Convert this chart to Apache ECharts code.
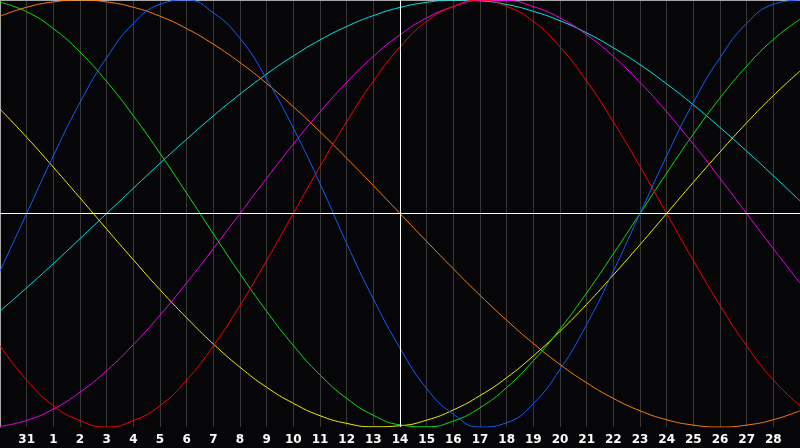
<!DOCTYPE html>
<html><head><meta charset="utf-8">
<script src="https://cdn.jsdelivr.net/npm/echarts@6/dist/echarts.min.js"></script>
<style>html,body{margin:0;padding:0;background:#060508;}#c{width:800px;height:448px;}</style>
</head><body><div id="c"></div>
<script>
// day labels (first and last are off-screen edges, not shown)
const days = ['30','31','1','2','3','4','5','6','7','8','9','10','11','12','13','14','15','16','17','18','19','20','21','22','23','24','25','26','27','28','1'];
const todayIndex = 15; // day 14
const physical = [-0.27,0,0.27,0.52,0.73,0.89,0.98,1.00,0.94,0.82,0.63,0.40,0.14,-0.14,-0.40,-0.63,-0.82,-0.94,-1.00,-0.98,-0.89,-0.73,-0.52,-0.27,0,0.27,0.52,0.73,0.89,0.98,1.00];
const emotional = [-0.62,-0.78,-0.90,-0.97,-1.00,-0.97,-0.90,-0.78,-0.62,-0.43,-0.22,0,0.22,0.43,0.62,0.78,0.90,0.97,1.00,0.97,0.90,0.78,0.62,0.43,0.22,0,-0.22,-0.43,-0.62,-0.78,-0.90];
const intellectual = [0.99,0.945,0.866,0.756,0.618,0.458,0.282,0.095,-0.095,-0.282,-0.458,-0.618,-0.756,-0.866,-0.945,-0.990,-0.999,-0.972,-0.910,-0.815,-0.690,-0.541,-0.372,-0.189,0,0.189,0.372,0.541,0.690,0.815,0.910];
const intuitive = [-0.997,-0.969,-0.916,-0.837,-0.736,-0.614,-0.476,-0.325,-0.165,0,0.165,0.325,0.476,0.614,0.736,0.837,0.916,0.969,0.997,0.997,0.969,0.916,0.837,0.736,0.614,0.476,0.325,0.165,0,-0.165,-0.325];
const aesthetic = [0.489,0.357,0.217,0.073,-0.073,-0.217,-0.357,-0.489,-0.611,-0.720,-0.814,-0.889,-0.947,-0.983,-0.999,-0.994,-0.968,-0.920,-0.853,-0.769,-0.667,-0.552,-0.425,-0.288,-0.146,0,0.146,0.288,0.425,0.552,0.667];
const awareness = [0.924,0.966,0.991,1.00,0.991,0.966,0.924,0.866,0.793,0.707,0.609,0.50,0.383,0.259,0.131,0,-0.131,-0.259,-0.383,-0.50,-0.609,-0.707,-0.793,-0.866,-0.924,-0.966,-0.991,-1.00,-0.991,-0.966,-0.924];
const spiritual = [-0.457,-0.348,-0.235,-0.118,0,0.118,0.235,0.348,0.457,0.559,0.653,0.738,0.813,0.876,0.927,0.965,0.989,1.00,0.996,0.979,0.947,0.903,0.846,0.776,0.697,0.607,0.509,0.403,0.292,0.177,0.059];

const seriesDefs = [
  {name:'spiritual', data:spiritual, color:'#00e8e8'},
  {name:'awareness', data:awareness, color:'#ff8000'},
  {name:'aesthetic', data:aesthetic, color:'#f0f000'},
  {name:'intuitive', data:intuitive, color:'#f000f0'},
  {name:'intellectual', data:intellectual, color:'#10e010'},
  {name:'emotional', data:emotional, color:'#ff0000'},
  {name:'physical', data:physical, color:'#1060ff'}
];

const chart = echarts.init(document.getElementById('c'), null, {renderer:'canvas'});
const series = seriesDefs.map(s => ({
  name: s.name, type:'line', data: s.data, smooth: true, showSymbol:false, symbol:'none',
  lineStyle:{color:s.color, width:1}, itemStyle:{color:s.color}, z:3, silent:true
}));
series.push({
  type:'line', data:[], silent:true, z:2,
  markLine:{symbol:'none', silent:true, label:{show:false},
    lineStyle:{color:'#ffffff', width:1, type:'solid'},
    animation:false,
    data:[{xAxis: todayIndex}, {yAxis: 0}]}
});
chart.setOption({
  animation:false,
  backgroundColor:'#060508',
  grid:{left:0, right:0, top:0, bottom:21, containLabel:false},
  xAxis:[{
    type:'category', data: days, boundaryGap:false,
    axisLine:{show:true, lineStyle:{color:'#a8a8a8', width:1}},
    axisTick:{show:false},
    axisLabel:{color:'#ffffff', fontFamily:'DejaVu Sans', fontWeight:'bold', fontSize:12, margin:7,
      interval: function(i){ return i>0 && i<days.length-1; }},
    splitLine:{show:true, interval:0, lineStyle:{color:'#383838', width:1}}
  },{
    type:'category', data: days, boundaryGap:false, position:'top',
    axisLine:{show:true, lineStyle:{color:'#a8a8a8', width:1}},
    axisTick:{show:false}, axisLabel:{show:false}, splitLine:{show:false}
  }],
  yAxis:{type:'value', min:-1, max:1,
    axisLine:{show:true, lineStyle:{color:'#a8a8a8', width:1}},
    axisTick:{show:false}, axisLabel:{show:false}, splitLine:{show:false}},
  series: series
});
</script>
</body></html>
